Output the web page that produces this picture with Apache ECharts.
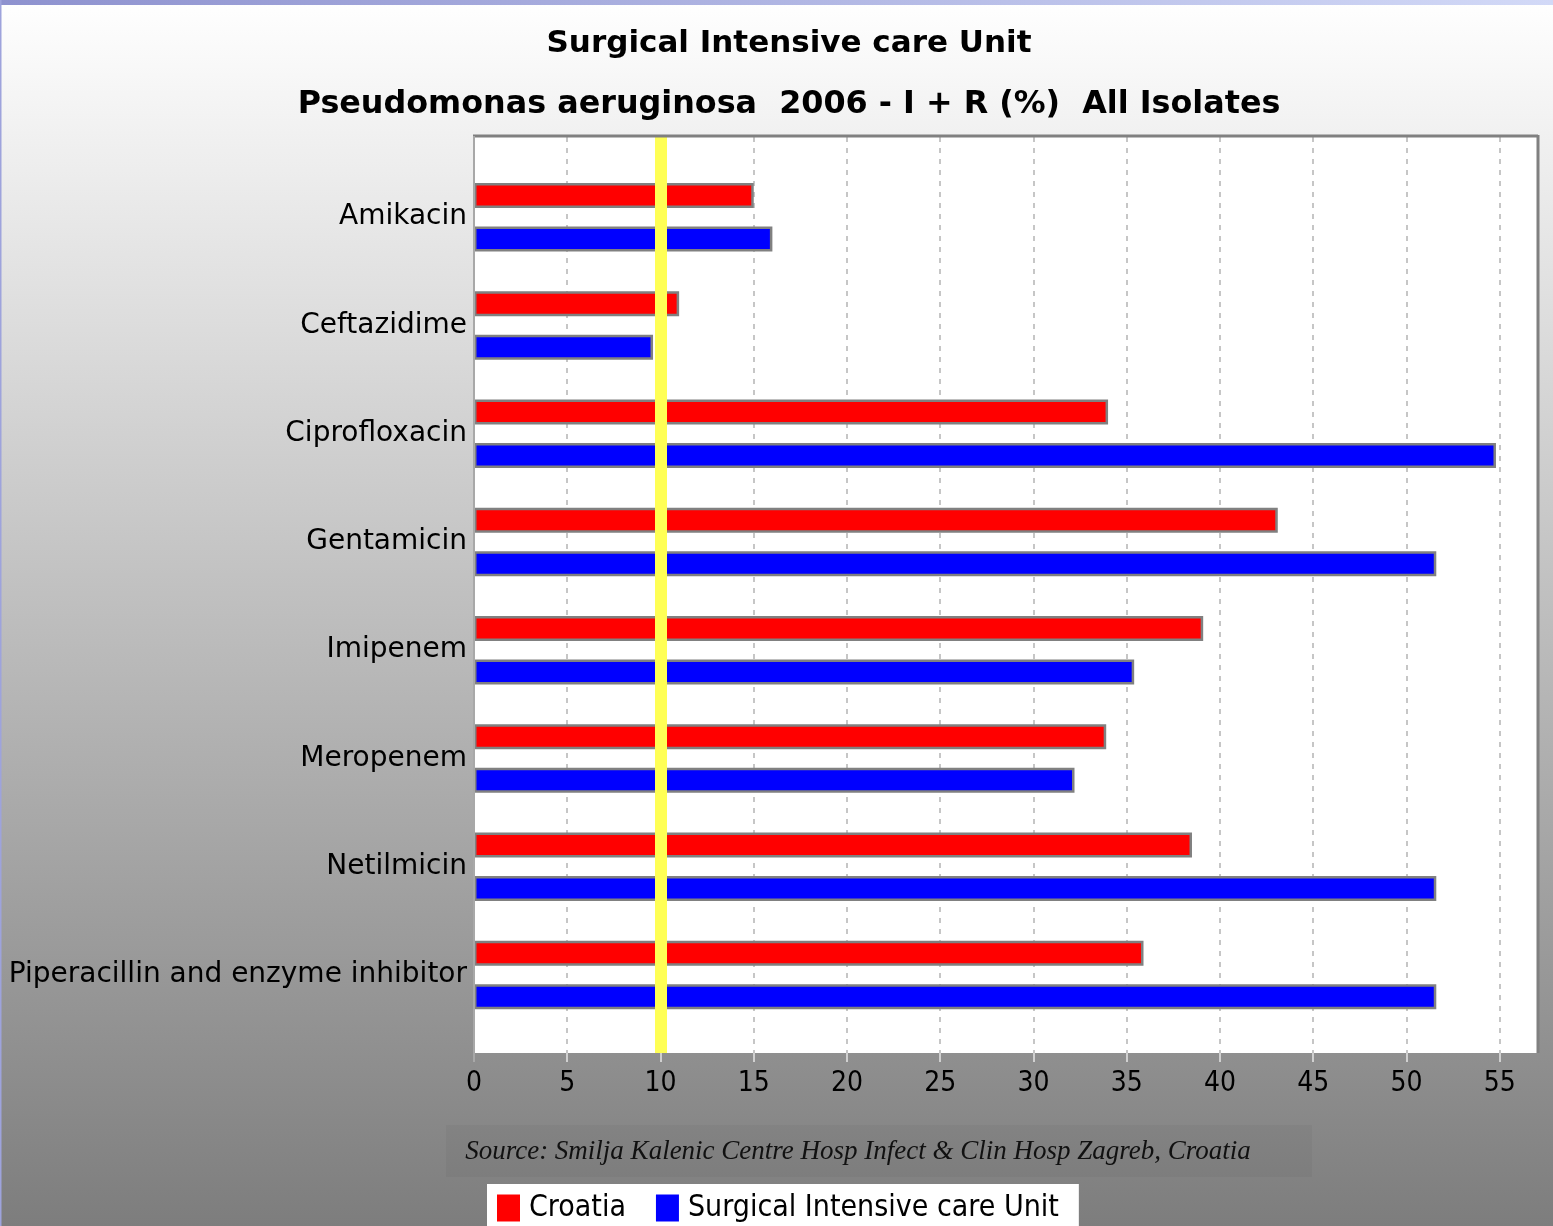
<!DOCTYPE html>
<html>
<head>
<meta charset="utf-8">
<script src="https://cdn.jsdelivr.net/npm/echarts@6/dist/echarts.min.js"></script>
<style>
html,body{margin:0;padding:0;width:1553px;height:1226px;overflow:hidden;}
#c{width:1553px;height:1226px;}
</style>
</head>
<body>
<div id="c"></div>
<script>
const categories = ["Amikacin","Ceftazidime","Ciprofloxacin","Gentamicin","Imipenem","Meropenem","Netilmicin","Piperacillin and enzyme inhibitor"];
const croatia = [15.0, 11.0, 34.0, 43.1, 39.1, 33.9, 38.5, 35.9];
const sicu = [16.0, 9.6, 54.8, 51.6, 35.4, 32.2, 51.6, 51.6];
const xTicks = [0, 5, 10, 15, 20, 25, 30, 35, 40, 45, 50, 55];
const referenceLine = 10;
const seriesNames = ["Croatia", "Surgical Intensive care Unit"];
const titleLines = ["Surgical Intensive care Unit", "Pseudomonas aeruginosa  2006 - I + R (%)  All Isolates"];
const sourceText = "Source: Smilja Kalenic Centre Hosp Infect & Clin Hosp Zagreb, Croatia";

const FONT = '"DejaVu Sans", sans-serif';
const FONT_C = '"DejaVu Sans Condensed", "DejaVu Sans", sans-serif';
const chart = echarts.init(document.getElementById('c'));
const W = 1553, H = 1226;
const PL = 474, PR = 1537, PT = 137, PB = 1053;
const BT = 163, BB = 1029;

chart.setOption({
  backgroundColor: {type:'linear', x:0, y:0, x2:0, y2:1, colorStops:[{offset:0,color:'#ffffff'},{offset:1,color:'#7d7d7d'}]},
  animation: false,
  title: [
    {text: titleLines[0], left: 784, top: 23, textAlign: 'center', textStyle:{fontFamily: FONT, fontWeight:'bold', fontSize: 31, color:'#000'}},
    {text: titleLines[1], left: 784, top: 84, textAlign: 'center', textStyle:{fontFamily: FONT, fontWeight:'bold', fontSize: 31.8, color:'#000'}}
  ],
  graphic: [
    {type:'rect', shape:{x:0,y:0,width:W,height:5}, style:{fill:{type:'linear',x:0,y:0,x2:1,y2:0,colorStops:[{offset:0,color:'#8e92cf'},{offset:1,color:'#d2d9f7'}]}}, z:10},
    {type:'rect', shape:{x:0,y:0,width:1.5,height:H}, style:{fill:'#9ea3dc'}, z:10},
    {type:'rect', shape:{x:PL,y:PT,width:PR-PL,height:PB-PT}, style:{fill:'#ffffff'}, z:-1},
    {type:'line', shape:{x1:PL-1,y1:PT-1,x2:PR+1,y2:PT-1}, style:{stroke:'#808080', lineWidth:3}, z:10},
    {type:'line', shape:{x1:PR+1,y1:PT-2,x2:PR+1,y2:PB}, style:{stroke:'#808080', lineWidth:3}, z:10},
    {type:'line', shape:{x1:PL,y1:PT-1,x2:PL,y2:PB+9}, style:{stroke:'#a8a8a8', lineWidth:2}, z:10},
    {type:'rect', shape:{x:446,y:1125,width:866,height:52}, style:{fill:'rgba(0,0,0,0.035)'}, z:5},
    {type:'text', x:858, y:1152, style:{text: sourceText, fill:'#111', font:'italic 27px "Liberation Serif", serif', textAlign:'center', textVerticalAlign:'middle'}, z:6}
  ],
  legend: {
    data: seriesNames,
    left: 487, top: 1184,
    backgroundColor:'#ffffff',
    padding:[9,20,6,10],
    itemGap: 30,
    itemWidth: 23, itemHeight: 27,
    icon: 'rect',
    itemStyle:{borderWidth:0},
    textStyle:{fontFamily: FONT_C, fontSize: 30, color:'#000', padding:[0,0,0,4]}
  },
  grid: [
    {left: PL, right: W-PR, top: PT, bottom: H-PB},
    {left: PL, right: W-PR, top: BT, bottom: H-BB}
  ],
  xAxis: [
    {gridIndex:0, type:'value', min:0, max:57, interval:5,
     axisLine:{show:false},
     axisTick:{show:true, length:9, customValues: xTicks, lineStyle:{color:'#d0d0d0', width:2}},
     axisLabel:{show:true, margin:17, fontFamily: FONT_C, fontSize: 28, color:'#000', customValues: xTicks},
     splitLine:{show:true, lineStyle:{color:'#c6c6c6', width:2, type:[5,6]}}},
    {gridIndex:1, type:'value', min:0, max:57, interval:5, show:false}
  ],
  yAxis: [
    {gridIndex:0, type:'value', min:0, max:1, show:false},
    {gridIndex:1, type:'category', data: categories, inverse:true,
     axisLine:{show:false}, axisTick:{show:false}, splitLine:{show:false},
     axisLabel:{margin:7, fontFamily: FONT, fontSize: 28, color:'#000'}}
  ],
  series: [
    {name: seriesNames[0], type:'bar', xAxisIndex:1, yAxisIndex:1, data: croatia,
     barWidth: 25, barGap: '74%',
     itemStyle:{color:'#ff0000', borderColor:'#808080', borderWidth:2.5}},
    {name: seriesNames[1], type:'bar', xAxisIndex:1, yAxisIndex:1, data: sicu,
     barWidth: 25, barGap: '74%',
     itemStyle:{color:'#0000ff', borderColor:'#808080', borderWidth:2.5}},
    {name:'ref', type:'line', xAxisIndex:0, yAxisIndex:0, data:[], z:8, silent:true,
     markLine:{symbol:'none', silent:true, label:{show:false},
       lineStyle:{color:'#ffff55', width:12, type:'solid'},
       data:[{xAxis: referenceLine}]}}
  ]
});
</script>
</body>
</html>
